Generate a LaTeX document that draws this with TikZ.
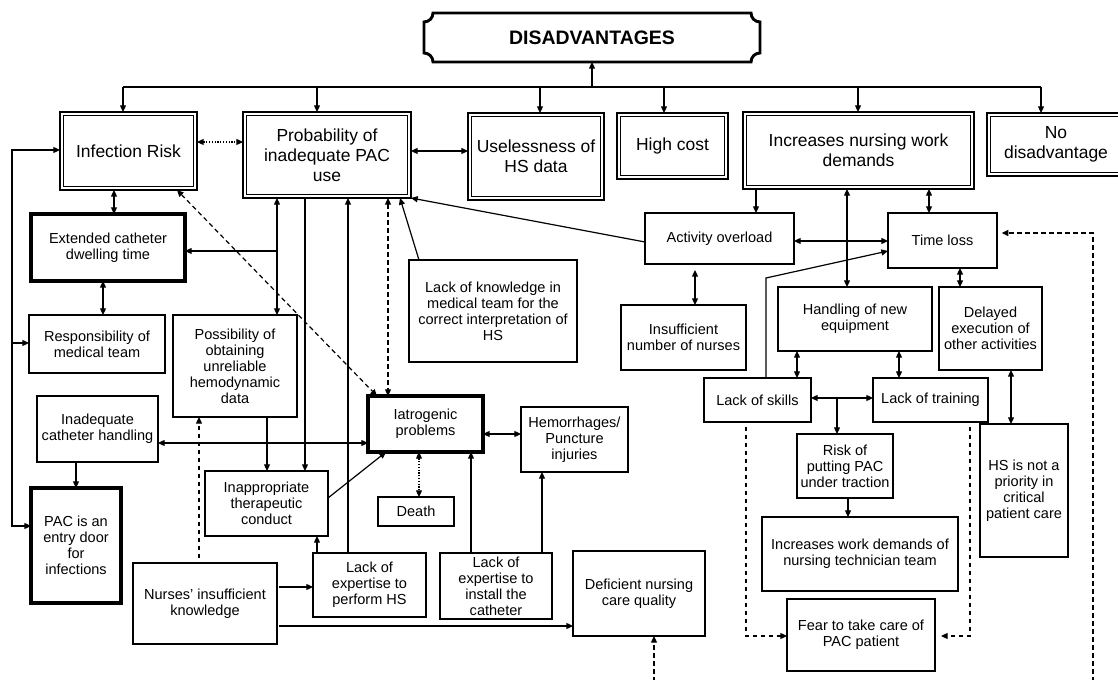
\documentclass[tikz,border=0pt]{standalone}
\usepackage{fontspec}
\setmainfont{Liberation Sans}
\usetikzlibrary{arrows.meta,calc}
\newcommand\topfont{\fontsize{13.1pt}{15pt}\selectfont}
\newcommand\smfont{\fontsize{10.9pt}{12pt}\selectfont}
\newcommand\disfont{\fontsize{14.6pt}{16pt}\selectfont\bfseries}
\newcommand\bx[7][box]{\node[#1, minimum width={(#4-#2)*0.75pt}, minimum height={(#5-#3)*0.75pt}] (#6) at ({(#2+#4)/2},{-(#3+#5)/2}) {#7};}
\begin{document}
\begin{tikzpicture}[x=0.75pt,y=0.75pt,
  box/.style={draw, line width=0.8pt, inner sep=0pt, outer sep=0pt, align=center, font=\smfont},
  tbox/.style={box, line width=2.3pt},
  dbl/.style={box, line width=1.3pt, font=\topfont},
  tit/.style={inner sep=0pt, outer sep=0pt, font=\disfont},
  con/.style={line width=0.9pt},
  arr/.style={con, -{Triangle[length=5pt,width=4.5pt]}},
  darr/.style={con, {Triangle[length=5pt,width=4.5pt]}-{Triangle[length=5pt,width=4.5pt]}},
  dsh/.style={dash pattern=on 3.5pt off 2.5pt},
  dotline/.style={dash pattern=on 0.9pt off 1.2pt}]
\useasboundingbox (0,0) rectangle (1118,-680);
\clip (0,0) rectangle (1118,-680);

% title
\bx[tit]{424}{13}{760}{62}{dis}{DISADVANTAGES}
\draw[line width=2.2pt] ($(dis.north west)+(9,0)$) -- ($(dis.north east)+(-9,0)$)
  arc[start angle=180,end angle=270,radius=6.75pt] -- ($(dis.south east)+(0,9)$)
  arc[start angle=90,end angle=180,radius=6.75pt] -- ($(dis.south west)+(9,0)$)
  arc[start angle=0,end angle=90,radius=6.75pt] -- ($(dis.north west)+(0,-9)$)
  arc[start angle=270,end angle=360,radius=6.75pt] -- cycle;

% top level
\bx[dbl]{60}{112}{197}{190}{inf}{Infection Risk}
\bx[dbl]{243}{112}{411}{198}{prob}{Probability of\\inadequate PAC\\use}
\bx[dbl]{468}{113}{604}{200}{usl}{Uselessness of\\HS data}
\bx[dbl]{617}{113}{728}{179}{cost}{High cost}
\bx[dbl]{743}{112}{974}{189}{inc}{Increases nursing work\\demands}
\bx[dbl]{987}{113}{1125}{176}{nod}{No\\disadvantage}
\foreach \n in {inf,prob,usl,cost,inc,nod}
  \draw[line width=0.6pt] ([shift={(2.6pt,2.6pt)}]\n.south west) rectangle ([shift={(-2.6pt,-2.6pt)}]\n.north east);

% left part
\bx[tbox]{31}{214}{185}{281}{ext}{Extended catheter\\dwelling time}
\bx{29}{315}{165}{373}{resp}{Responsibility of\\medical team}
\bx{173}{315}{297}{417}{poss}{Possibility of\\obtaining\\unreliable\\hemodynamic\\data}
\bx{409}{260}{577}{362}{lk}{Lack of knowledge in\\medical team for the\\correct interpretation of\\HS}
\bx{37}{396}{158}{462}{inad}{Inadequate\\catheter handling}
\bx[tbox]{368}{396}{483}{452}{iat}{Iatrogenic\\problems}
\bx{521}{407}{628}{472}{hem}{Hemorrhages/\\Puncture\\injuries}
\bx{205}{471}{328}{536}{inap}{Inappropriate\\therapeutic\\conduct}
\bx{378}{497}{454}{526}{death}{Death}
\bx[tbox]{31}{488}{121}{603}{pac}{PAC is an\\entry door\\for\\infections}
\bx{133}{563}{277}{644}{nurse}{Nurses’ insufficient\\knowledge}
\bx{313}{553}{426}{617}{lep}{Lack of\\expertise to\\perform HS}
\bx{440}{553}{552}{619}{lei}{Lack of\\expertise to\\install the\\catheter}
\bx{573}{551}{705}{636}{def}{Deficient nursing\\care quality}

% right part
\bx{645}{213}{794}{264}{act}{Activity overload}
\bx{888}{213}{997}{268}{tl}{Time loss}
\bx{621}{305}{746}{370}{ins}{Insufficient\\number of nurses}
\bx{778}{287}{932}{351}{hand}{Handling of new\\equipment}
\bx{939}{287}{1042}{370}{del}{Delayed\\execution of\\other activities}
\bx{704}{378}{811}{422}{ls}{Lack of skills}
\bx{873}{378}{988}{422}{lt}{Lack of training}
\bx{797}{434}{893}{498}{risk}{Risk of\\putting PAC\\under traction}
\bx{762}{517}{958}{591}{iwd}{Increases work demands of\\nursing technician team}
\bx{787}{599}{935}{671}{fear}{Fear to take care of\\PAC patient}
\bx{980}{424}{1068}{557}{hsn}{HS is not a\\priority in\\critical\\patient care}

% bus
\coordinate (b1) at (123,-87);
\coordinate (b6) at (1041,-87);
\draw[con] (b1) -- (b6);
\draw[arr] (dis.south |- 0,-87) -- (dis.south);
\draw[arr] (b1) -- (b1 |- inf.north);
\draw[arr] (prob.north -| 317,0) ++(0,25) -- (prob.north -| 317,0);
\draw[arr] (usl.north -| 540,0) ++(0,26) -- (usl.north -| 540,0);
\draw[arr] (cost.north -| 664,0) ++(0,26) -- (cost.north -| 664,0);
\draw[arr] (inc.north -| 858,0) ++(0,25) -- (inc.north -| 858,0);
\draw[arr] (b6) -- (b6 |- nod.north);

% left connectors
\draw[darr, dotline] (inf.east |- 0,-142) -- (prob.west |- 0,-142);
\draw[darr] (prob.east |- 0,-151) -- (usl.west |- 0,-151);
\draw[darr] (inf.south -| 114,0) -- (ext.north -| 114,0);
\draw[darr] (ext.south -| 103,0) -- (resp.north -| 103,0);
\draw[darr] (prob.south -| 277,0) -- (poss.north -| 277,0);
\draw[arr] (277,-251) -- (ext.east |- 0,-251);
\draw[arr] (prob.south -| 305,0) -- (inap.north -| 305,0);
\draw[arr] (poss.south -| 267,0) -- (inap.north -| 267,0);
\draw[arr] (lep.north -| 348,0) -- (prob.south -| 348,0);
\draw[darr, dsh] (prob.south -| 388,0) -- (iat.north -| 388,0);
\draw[darr, dsh] (inf.south -| 177,0) -- (iat.north -| 377,0);
\draw[arr] (lk.north -| 419,0) -- (prob.south -| 400,0);
\draw[arr] (act.west |- 0,-242) -- (prob.south east);
\draw[darr] (inf.west |- 0,-150) -- (12,-150) -- (12,-526) -- (pac.west |- 0,-526);
\draw[arr] (12,-343) -- (resp.west |- 0,-343);
\draw[darr] (inad.east |- 0,-443) -- (iat.west |- 0,-443);
\draw[arr] (inad.south -| 76,0) -- (pac.north -| 76,0);
\draw[arr, dsh] ([yshift=3.5pt]nurse.north -| 199,0) -- (poss.south -| 199,0);
\draw[arr] ([xshift=1.5pt]nurse.east |- 0,-587) -- (lep.west |- 0,-587);
\draw[arr] ([xshift=1.5pt]nurse.east |- 0,-626) -- (def.west |- 0,-626);
\draw[arr] (lep.north -| 317,0) -- (inap.south -| 317,0);
\draw[arr] (inap.east |- 0,-498) -- (iat.south -| 386,0);
\draw[arr] (lei.north -| 471,0) -- (iat.south -| 471,0);
\draw[arr] (lei.north -| 542,0) -- (hem.south -| 542,0);
\draw[darr] (iat.east |- 0,-434) -- (hem.west |- 0,-434);
\draw[darr, dotline] (iat.south -| 419,0) -- (death.north -| 419,0);
\coordinate (d1) at (654,-690);
\draw[arr, dsh] (d1) -- (def.south -| d1);

% right connectors
\draw[arr] (inc.south -| 756,0) -- (act.north -| 756,0);
\draw[darr] (inc.south -| 847,0) -- (hand.north -| 847,0);
\draw[darr] (inc.south -| 929,0) -- (tl.north -| 929,0);
\draw[darr] (act.east |- 0,-241) -- (tl.west |- 0,-241);
\draw[darr] (695,-270) -- (ins.north -| 695,0);
\draw[arr] (ls.north -| 766,0) -- (766,-278) -- (tl.west |- 0,-251);
\draw[darr] (tl.south -| 960,0) -- (del.north -| 960,0);
\draw[darr] (hand.south -| 797,0) -- (ls.north -| 797,0);
\draw[darr] (hand.south -| 899,0) -- (lt.north -| 899,0);
\draw[darr] (ls.east |- 0,-398) -- (lt.west |- 0,-398);
\draw[arr] (837,-398) -- (risk.north -| 837,0);
\draw[darr] (del.south -| 1011,0) -- (hsn.north -| 1011,0);
\draw[arr] (risk.south -| 848,0) -- (iwd.north -| 848,0);
\draw[arr, dsh] ([yshift=-3.5pt]ls.south -| 746,0) -- (746,-636) -- (fear.west |- 0,-636);
\draw[arr, dsh] ([yshift=-3.5pt]lt.south -| 970,0) -- (970,-636) -- (941,-636);
\coordinate (d2) at (1093,-690);
\draw[arr, dsh] (d2) -- (1093,-233) -- ([xshift=3.5pt]tl.east |- 0,-233);
\end{tikzpicture}
\end{document}
